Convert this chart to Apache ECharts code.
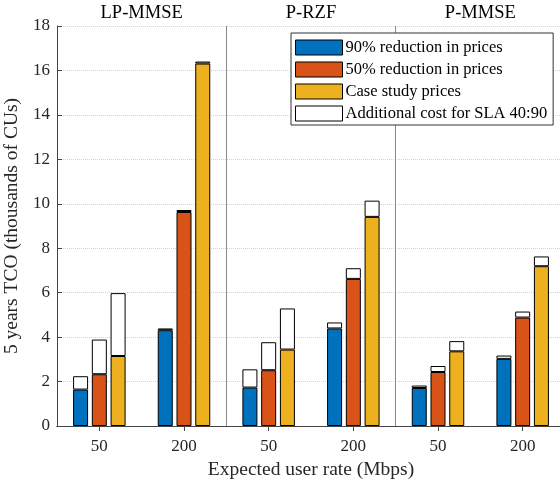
<!DOCTYPE html>
<html>
<head>
<meta charset="utf-8">
<script src="https://cdn.jsdelivr.net/npm/echarts@6/dist/echarts.min.js"></script>
<style>
  html, body { margin: 0; padding: 0; background: #fff; }
  #main { width: 560px; height: 481px; }
</style>
</head>
<body>
<div id="main"></div>
<script>
  // x categories (user rate) and precoder groups
  const rates = ['50', '200', '50', '200', '50', '200'];
  const groups = ['LP-MMSE', 'P-RZF', 'P-MMSE'];

  // base cost for each price scenario
  const cost90 = [1.64, 4.31, 1.73, 4.39, 1.71, 3.02];
  const cost50 = [2.33, 9.63, 2.51, 6.62, 2.43, 4.88];
  const costCase = [3.15, 16.31, 3.44, 9.41, 3.36, 7.19];

  // additional cost for SLA 40:90 on top of each bar
  const extra90 = [0.60, 0.08, 0.82, 0.27, 0.11, 0.15];
  const extra50 = [1.56, 0.09, 1.26, 0.48, 0.27, 0.27];
  const extraCase = [2.83, 0.09, 1.85, 0.73, 0.46, 0.44];

  const yTicks = [0, 18, 2]; // min, max, step

  const font = 'Liberation Serif';
  const axisColor = '#444';

  var myChart = echarts.init(document.getElementById('main'));

  const barStyle = (color) => ({
    color: color,
    borderColor: '#000',
    borderWidth: 1
  });

  const baseBar = (name, data, stack, color) => ({
    name: name,
    type: 'bar',
    stack: stack,
    data: data,
    barWidth: 15,
    barGap: '25%',
    itemStyle: barStyle(color)
  });

  const extraName = 'Additional cost for SLA 40:90';

  let series = [
    baseBar('90% reduction in prices', cost90, 'a', '#0072BD'),
    baseBar('50% reduction in prices', cost50, 'b', '#D95319'),
    baseBar('Case study prices', costCase, 'c', '#EDB120'),
    baseBar(extraName, extra90, 'a', '#ffffff'),
    baseBar(extraName, extra50, 'b', '#ffffff'),
    baseBar(extraName, extraCase, 'c', '#ffffff')
  ];

  let option = {
    animation: false,
    textStyle: { fontFamily: font },
    grid: { left: 57, top: 26, width: 508, height: 400, outerBoundsMode: 'none', containLabel: false },
    legend: {
      data: ['90% reduction in prices', '50% reduction in prices', 'Case study prices', extraName],
      orient: 'vertical',
      left: 291,
      top: 33,
      padding: [6, 6, 3, 4],
      itemWidth: 47,
      itemHeight: 15,
      itemGap: 5,
      borderColor: '#333',
      borderWidth: 1,
      backgroundColor: '#fff',
      icon: 'rect',
      itemStyle: { borderColor: '#000', borderWidth: 1 },
      textStyle: { fontFamily: font, fontSize: 16.5, color: '#000', lineHeight: 15, padding: [0, 0, 0, -2] }
    },
    xAxis: [
      {
        type: 'category',
        data: rates,
        position: 'bottom',
        axisLine: { lineStyle: { color: axisColor } },
        axisTick: { show: true, inside: true, alignWithLabel: true, length: 5, lineStyle: { color: axisColor } },
        axisLabel: { fontFamily: font, fontSize: 17, color: '#262626', margin: 12 },
        splitLine: {
          show: true,
          interval: function (index) { return index === 2 || index === 4; },
          lineStyle: { color: '#888', width: 1 }
        },
        name: 'Expected user rate (Mbps)',
        nameLocation: 'middle',
        nameGap: 31,
        nameTextStyle: { fontFamily: font, fontSize: 19.5, color: '#262626' }
      },
      {
        type: 'category',
        data: rates,
        position: 'top',
        axisLine: { lineStyle: { color: axisColor } },
        axisTick: { show: true, inside: true, alignWithLabel: true, length: 5, lineStyle: { color: axisColor } },
        axisLabel: { show: false },
        splitLine: { show: false }
      },
      {
        type: 'category',
        data: groups,
        position: 'top',
        axisLine: { show: false },
        axisTick: { show: false },
        axisLabel: { fontFamily: font, fontSize: 18.5, color: '#000', margin: 3 },
        splitLine: { show: false }
      }
    ],
    yAxis: [
      {
        type: 'value',
        min: yTicks[0],
        max: yTicks[1],
        interval: yTicks[2],
        position: 'left',
        axisLine: { show: true, lineStyle: { color: axisColor } },
        axisTick: { show: true, inside: true, length: 5, lineStyle: { color: axisColor } },
        axisLabel: { fontFamily: font, fontSize: 17, color: '#262626', margin: 7 },
        splitLine: { show: true, lineStyle: { color: '#d4d4d4', type: 'dotted' } },
        name: '5 years TCO (thousands of CUs)',
        nameLocation: 'middle',
        nameGap: 30,
        nameTextStyle: { fontFamily: font, fontSize: 19.5, color: '#262626' }
      },
      {
        type: 'value',
        min: yTicks[0],
        max: yTicks[1],
        interval: yTicks[2],
        position: 'right',
        axisLine: { show: true, lineStyle: { color: axisColor } },
        axisTick: { show: true, inside: true, length: 5, lineStyle: { color: axisColor } },
        axisLabel: { show: false },
        splitLine: { show: false }
      }
    ],
    series: series
  };

  myChart.setOption(option);
</script>
</body>
</html>
